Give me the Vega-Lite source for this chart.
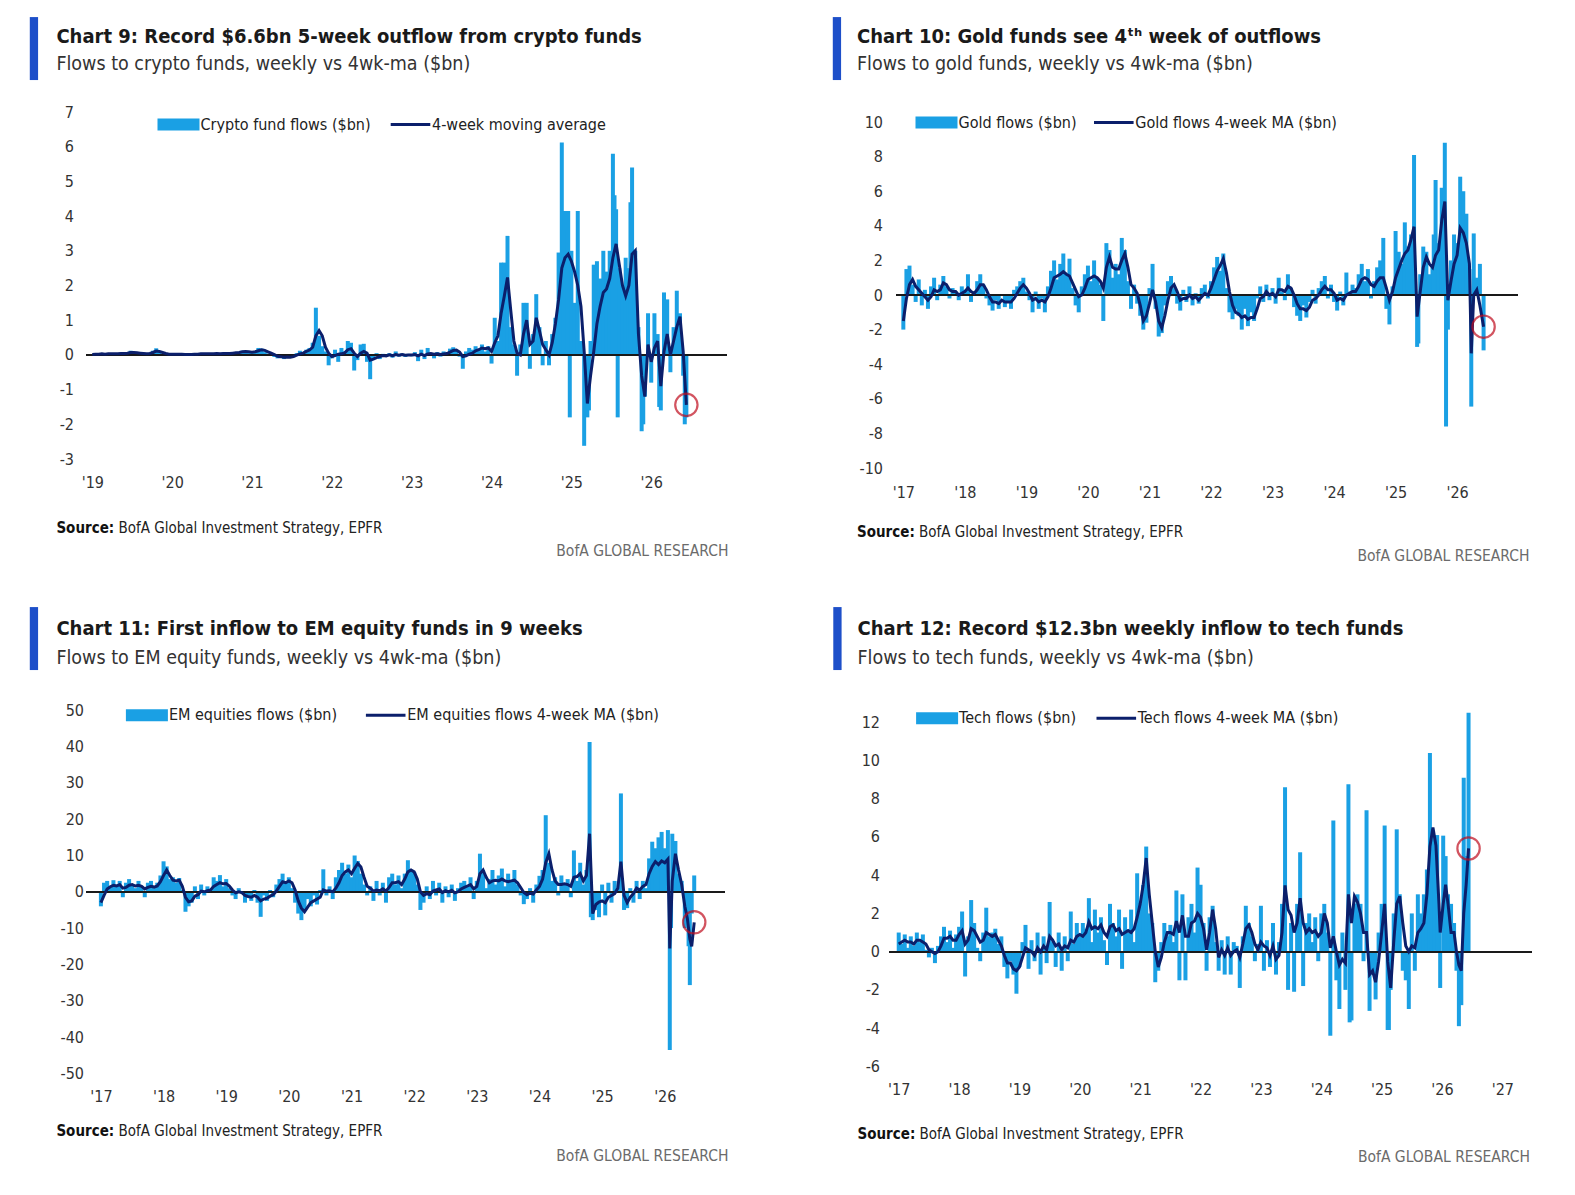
{
  "$schema": "https://vega.github.io/schema/vega-lite/v6.json",
  "background": "white",
  "padding": {"left": 16.5, "top": 24, "right": 10, "bottom": 10},
  "config": {
    "font": "DejaVu Sans Condensed, DejaVu Sans, sans-serif",
    "view": {"stroke": null},
    "axis": {"grid": false, "ticks": false, "domain": false, "labelFontSize": 16, "labelColor": "#333333", "titleLimit": 1500, "titleAngle": 0, "titlePadding": 0},
    "legend": {"labelFontSize": 16, "labelColor": "#222222", "labelLimit": 400}
  },
  "datasets": {
    "crypto": [
      {"t":2019.00,"f":0.02,"m":0.01},{"t":2019.04,"f":0.03,"m":0.02},{"t":2019.08,"f":0.01,"m":0.02},{"t":2019.12,"f":0.04,"m":0.03},{"t":2019.16,"f":0.02,"m":0.02},{"t":2019.20,"f":0.03,"m":0.03},{"t":2019.24,"f":0.05,"m":0.03},{"t":2019.28,"f":0.02,"m":0.03},{"t":2019.32,"f":0.04,"m":0.03},{"t":2019.36,"f":0.06,"m":0.04},{"t":2019.40,"f":0.03,"m":0.04},{"t":2019.44,"f":0.08,"m":0.05},{"t":2019.48,"f":0.12,"m":0.07},{"t":2019.52,"f":0.06,"m":0.07},{"t":2019.56,"f":0.03,"m":0.06},{"t":2019.60,"f":0.05,"m":0.05},{"t":2019.64,"f":0.02,"m":0.04},{"t":2019.68,"f":0.04,"m":0.03},{"t":2019.72,"f":0.06,"m":0.04},{"t":2019.76,"f":0.12,"m":0.07},{"t":2019.80,"f":0.19,"m":0.11},{"t":2019.84,"f":0.07,"m":0.10},{"t":2019.88,"f":0.03,"m":0.07},{"t":2019.92,"f":0.02,"m":0.04},{"t":2019.96,"f":0.01,"m":0.02},
      {"t":2020.00,"f":0.02,"m":0.02},{"t":2020.04,"f":0.03,"m":0.02},{"t":2020.08,"f":0.01,"m":0.02},{"t":2020.12,"f":0.02,"m":0.02},{"t":2020.16,"f":-0.02,"m":0.01},{"t":2020.20,"f":0.01,"m":0.01},{"t":2020.24,"f":0.02,"m":0.01},{"t":2020.28,"f":0.03,"m":0.02},{"t":2020.32,"f":0.02,"m":0.02},{"t":2020.36,"f":0.04,"m":0.03},{"t":2020.40,"f":0.02,"m":0.03},{"t":2020.44,"f":0.03,"m":0.03},{"t":2020.48,"f":0.05,"m":0.03},{"t":2020.52,"f":0.03,"m":0.03},{"t":2020.56,"f":0.04,"m":0.04},{"t":2020.60,"f":0.02,"m":0.03},{"t":2020.64,"f":0.05,"m":0.04},{"t":2020.68,"f":0.04,"m":0.04},{"t":2020.72,"f":0.06,"m":0.04},{"t":2020.76,"f":0.05,"m":0.05},{"t":2020.80,"f":0.07,"m":0.06},{"t":2020.84,"f":0.09,"m":0.07},{"t":2020.88,"f":0.12,"m":0.09},{"t":2020.92,"f":0.10,"m":0.10},{"t":2020.96,"f":0.06,"m":0.09},
      {"t":2021.00,"f":0.08,"m":0.08},{"t":2021.04,"f":0.10,"m":0.09},{"t":2021.08,"f":0.20,"m":0.12},{"t":2021.12,"f":0.18,"m":0.15},{"t":2021.16,"f":0.08,"m":0.13},{"t":2021.20,"f":0.04,"m":0.09},{"t":2021.24,"f":0.02,"m":0.05},{"t":2021.28,"f":-0.06,"m":0.01},{"t":2021.32,"f":-0.10,"m":-0.04},{"t":2021.36,"f":-0.05,"m":-0.05},{"t":2021.40,"f":-0.12,"m":-0.07},{"t":2021.44,"f":-0.04,"m":-0.06},{"t":2021.48,"f":-0.08,"m":-0.07},{"t":2021.52,"f":-0.03,"m":-0.05},{"t":2021.56,"f":0.05,"m":-0.01},{"t":2021.60,"f":0.12,"m":0.03},{"t":2021.64,"f":0.08,"m":0.05},{"t":2021.68,"f":0.15,"m":0.10},{"t":2021.72,"f":0.20,"m":0.14},{"t":2021.76,"f":0.35,"m":0.22},{"t":2021.80,"f":1.36,"m":0.55},{"t":2021.84,"f":0.55,"m":0.70},{"t":2021.88,"f":0.25,"m":0.55},{"t":2021.92,"f":0.10,"m":0.22},{"t":2021.96,"f":-0.30,"m":0.05},
      {"t":2022.00,"f":-0.10,"m":-0.05},{"t":2022.04,"f":0.15,"m":-0.02},{"t":2022.08,"f":-0.20,"m":0.02},{"t":2022.12,"f":0.20,"m":0.03},{"t":2022.16,"f":0.10,"m":0.06},{"t":2022.20,"f":0.40,"m":0.15},{"t":2022.24,"f":0.35,"m":0.18},{"t":2022.28,"f":-0.45,"m":0.05},{"t":2022.32,"f":-0.15,"m":-0.05},{"t":2022.36,"f":0.30,"m":0.05},{"t":2022.40,"f":0.32,"m":0.10},{"t":2022.44,"f":-0.20,"m":0.05},{"t":2022.48,"f":-0.70,"m":-0.15},{"t":2022.52,"f":-0.10,"m":-0.12},{"t":2022.56,"f":0.05,"m":-0.08},{"t":2022.60,"f":-0.12,"m":-0.05},{"t":2022.64,"f":0.03,"m":-0.02},{"t":2022.68,"f":-0.06,"m":-0.03},{"t":2022.72,"f":0.05,"m":0.00},{"t":2022.76,"f":-0.08,"m":-0.02},{"t":2022.80,"f":0.10,"m":0.01},{"t":2022.84,"f":-0.05,"m":-0.01},{"t":2022.88,"f":0.04,"m":0.01},{"t":2022.92,"f":-0.06,"m":-0.01},{"t":2022.96,"f":0.03,"m":0.00},
      {"t":2023.00,"f":-0.04,"m":0.00},{"t":2023.04,"f":0.08,"m":0.01},{"t":2023.08,"f":-0.18,"m":-0.03},{"t":2023.12,"f":0.15,"m":0.02},{"t":2023.16,"f":-0.12,"m":-0.02},{"t":2023.20,"f":0.20,"m":0.03},{"t":2023.24,"f":0.05,"m":0.04},{"t":2023.28,"f":-0.10,"m":0.02},{"t":2023.32,"f":0.08,"m":0.03},{"t":2023.36,"f":-0.05,"m":0.01},{"t":2023.40,"f":0.10,"m":0.03},{"t":2023.44,"f":0.05,"m":0.04},{"t":2023.48,"f":0.18,"m":0.08},{"t":2023.52,"f":0.22,"m":0.13},{"t":2023.56,"f":0.12,"m":0.14},{"t":2023.60,"f":-0.05,"m":0.08},{"t":2023.64,"f":-0.40,"m":-0.05},{"t":2023.68,"f":0.10,"m":-0.03},{"t":2023.72,"f":0.20,"m":0.02},{"t":2023.76,"f":0.15,"m":0.05},{"t":2023.80,"f":0.25,"m":0.12},{"t":2023.84,"f":0.15,"m":0.15},{"t":2023.88,"f":0.30,"m":0.20},{"t":2023.92,"f":0.10,"m":0.18},{"t":2023.96,"f":0.25,"m":0.20},
      {"t":2024.00,"f":-0.25,"m":0.10},{"t":2024.04,"f":1.07,"m":0.35},{"t":2024.08,"f":0.40,"m":0.55},{"t":2024.12,"f":2.66,"m":1.20},{"t":2024.16,"f":2.66,"m":1.70},{"t":2024.20,"f":3.43,"m":2.23},{"t":2024.24,"f":0.80,"m":1.30},{"t":2024.28,"f":0.30,"m":0.40},{"t":2024.32,"f":-0.60,"m":0.05},{"t":2024.36,"f":0.30,"m":0.00},{"t":2024.40,"f":1.50,"m":0.60},{"t":2024.44,"f":1.50,"m":1.00},{"t":2024.48,"f":-0.40,"m":0.30},{"t":2024.52,"f":0.60,"m":0.40},{"t":2024.56,"f":1.75,"m":1.07},{"t":2024.60,"f":0.80,"m":0.70},{"t":2024.64,"f":-0.30,"m":0.30},{"t":2024.68,"f":0.40,"m":0.15},{"t":2024.72,"f":-0.30,"m":0.00},{"t":2024.76,"f":0.60,"m":0.35},{"t":2024.80,"f":1.07,"m":0.90},{"t":2024.84,"f":2.95,"m":1.60},{"t":2024.88,"f":6.12,"m":2.50},{"t":2024.92,"f":4.15,"m":2.80},{"t":2024.96,"f":4.15,"m":2.90},
      {"t":2025.00,"f":3.00,"m":2.70},{"t":2025.04,"f":1.50,"m":2.40},{"t":2025.08,"f":4.15,"m":2.00},{"t":2025.12,"f":0.40,"m":1.40},{"t":2025.16,"f":-2.62,"m":0.10},{"t":2025.20,"f":-1.80,"m":-1.40},{"t":2025.24,"f":0.40,"m":-0.60},{"t":2025.28,"f":2.60,"m":0.10},{"t":2025.32,"f":2.70,"m":0.90},{"t":2025.36,"f":2.20,"m":1.40},{"t":2025.40,"f":3.00,"m":1.80},{"t":2025.44,"f":2.40,"m":1.90},{"t":2025.48,"f":3.00,"m":2.20},{"t":2025.52,"f":5.80,"m":2.80},{"t":2025.56,"f":4.20,"m":3.20},{"t":2025.60,"f":2.50,"m":2.60},{"t":2025.64,"f":2.00,"m":2.00},{"t":2025.68,"f":2.80,"m":1.70},{"t":2025.72,"f":2.50,"m":2.00},{"t":2025.76,"f":5.40,"m":2.90},{"t":2025.80,"f":3.00,"m":3.00},{"t":2025.84,"f":0.80,"m":0.60},{"t":2025.88,"f":-2.20,"m":-0.60},{"t":2025.92,"f":-1.20,"m":-1.20},{"t":2025.96,"f":1.20,"m":0.30},
      {"t":2026.00,"f":-0.80,"m":-0.20},{"t":2026.04,"f":1.20,"m":0.20},{"t":2026.08,"f":0.60,"m":0.40},{"t":2026.12,"f":-1.60,"m":-0.90},{"t":2026.16,"f":1.80,"m":0.10},{"t":2026.20,"f":1.60,"m":0.60},{"t":2026.24,"f":-0.50,"m":0.00},{"t":2026.28,"f":0.80,"m":0.40},{"t":2026.32,"f":1.85,"m":0.80},{"t":2026.36,"f":1.20,"m":1.10},{"t":2026.40,"f":-0.60,"m":0.10},{"t":2026.44,"f":-1.80,"m":-1.44},
      {"t":2024.90,"f":3.6},{"t":2024.98,"f":-1.8},{"t":2025.22,"f":-1.6},{"t":2025.54,"f":4.6},{"t":2025.58,"f":-1.8},{"t":2025.74,"f":4.4},{"t":2025.90,"f":-2.0},{"t":2026.10,"f":-1.5},{"t":2026.42,"f":-2.0}
    ],
    "gold": [
      {"t":2017.00,"f":-2.0,"m":-1.5},{"t":2017.05,"f":1.5,"m":-0.2},{"t":2017.10,"f":1.7,"m":0.6},{"t":2017.15,"f":0.6,"m":0.9},{"t":2017.20,"f":-0.4,"m":0.5},{"t":2017.25,"f":0.9,"m":0.3},{"t":2017.30,"f":-0.6,"m":0.1},{"t":2017.35,"f":0.3,"m":-0.1},{"t":2017.40,"f":-0.8,"m":-0.3},{"t":2017.45,"f":0.5,"m":-0.1},{"t":2017.50,"f":1.0,"m":0.3},{"t":2017.55,"f":-0.3,"m":0.2},{"t":2017.60,"f":0.6,"m":0.3},{"t":2017.65,"f":1.1,"m":0.7},{"t":2017.70,"f":0.5,"m":0.6},{"t":2017.75,"f":-0.2,"m":0.3},{"t":2017.80,"f":0.4,"m":0.2},{"t":2017.85,"f":0.2,"m":0.2},{"t":2017.90,"f":-0.3,"m":0.0},{"t":2017.95,"f":0.5,"m":0.1},
      {"t":2018.00,"f":0.3,"m":0.2},{"t":2018.05,"f":1.2,"m":0.4},{"t":2018.10,"f":-0.4,"m":0.2},{"t":2018.15,"f":0.2,"m":0.1},{"t":2018.20,"f":0.8,"m":0.3},{"t":2018.25,"f":1.2,"m":0.6},{"t":2018.30,"f":0.6,"m":0.6},{"t":2018.35,"f":-0.2,"m":0.3},{"t":2018.40,"f":-0.6,"m":-0.1},{"t":2018.45,"f":-0.9,"m":-0.4},{"t":2018.50,"f":-0.3,"m":-0.4},{"t":2018.55,"f":-0.8,"m":-0.5},{"t":2018.60,"f":0.0,"m":-0.3},{"t":2018.65,"f":-0.7,"m":-0.4},{"t":2018.70,"f":-0.4,"m":-0.4},{"t":2018.75,"f":-0.8,"m":-0.4},{"t":2018.80,"f":0.3,"m":-0.2},{"t":2018.85,"f":0.5,"m":0.1},{"t":2018.90,"f":0.8,"m":0.4},{"t":2018.95,"f":1.0,"m":0.6},
      {"t":2019.00,"f":0.2,"m":0.4},{"t":2019.05,"f":-0.3,"m":0.1},{"t":2019.10,"f":-1.0,"m":-0.3},{"t":2019.15,"f":0.2,"m":-0.2},{"t":2019.20,"f":-0.8,"m":-0.4},{"t":2019.25,"f":-0.2,"m":-0.3},{"t":2019.30,"f":-1.0,"m":-0.4},{"t":2019.35,"f":0.5,"m":-0.1},{"t":2019.40,"f":1.4,"m":0.4},{"t":2019.45,"f":2.0,"m":1.0},{"t":2019.50,"f":0.9,"m":1.1},{"t":2019.55,"f":1.8,"m":1.2},{"t":2019.60,"f":2.4,"m":1.35},{"t":2019.65,"f":1.2,"m":1.2},{"t":2019.70,"f":2.1,"m":1.1},{"t":2019.75,"f":0.4,"m":0.7},{"t":2019.80,"f":-0.6,"m":0.3},{"t":2019.85,"f":-1.0,"m":-0.1},{"t":2019.90,"f":0.5,"m":0.0},{"t":2019.95,"f":1.2,"m":0.4},
      {"t":2020.00,"f":1.7,"m":0.9},{"t":2020.05,"f":0.8,"m":1.0},{"t":2020.10,"f":2.0,"m":1.1},{"t":2020.15,"f":1.0,"m":1.0},{"t":2020.20,"f":0.6,"m":0.8},{"t":2020.25,"f":-1.5,"m":0.4},{"t":2020.30,"f":3.0,"m":1.6},{"t":2020.35,"f":2.6,"m":2.2},{"t":2020.40,"f":1.0,"m":1.6},{"t":2020.45,"f":1.8,"m":1.5},{"t":2020.50,"f":1.2,"m":1.5},{"t":2020.55,"f":3.3,"m":2.0},{"t":2020.60,"f":2.6,"m":2.4},{"t":2020.65,"f":0.8,"m":1.6},{"t":2020.70,"f":-0.8,"m":0.6},{"t":2020.75,"f":0.6,"m":0.4},{"t":2020.80,"f":-0.5,"m":0.1},{"t":2020.85,"f":-1.2,"m":-0.6},{"t":2020.90,"f":-2.0,"m":-1.5},{"t":2020.95,"f":-1.6,"m":-1.2},
      {"t":2021.00,"f":0.4,"m":-0.5},{"t":2021.05,"f":1.8,"m":0.3},{"t":2021.10,"f":-0.8,"m":-0.4},{"t":2021.15,"f":-2.4,"m":-1.5},{"t":2021.20,"f":-2.2,"m":-1.9},{"t":2021.25,"f":-0.6,"m":-1.2},{"t":2021.30,"f":0.8,"m":-0.3},{"t":2021.35,"f":1.1,"m":0.4},{"t":2021.40,"f":0.4,"m":0.6},{"t":2021.45,"f":-0.5,"m":0.2},{"t":2021.50,"f":-0.9,"m":-0.3},{"t":2021.55,"f":0.3,"m":-0.2},{"t":2021.60,"f":-0.4,"m":-0.2},{"t":2021.65,"f":0.5,"m":0.0},{"t":2021.70,"f":-0.6,"m":-0.2},{"t":2021.75,"f":0.1,"m":-0.1},{"t":2021.80,"f":-0.5,"m":-0.3},{"t":2021.85,"f":0.4,"m":-0.1},{"t":2021.90,"f":0.6,"m":0.1},{"t":2021.95,"f":-0.2,"m":0.0},
      {"t":2022.00,"f":0.8,"m":0.4},{"t":2022.05,"f":1.6,"m":0.9},{"t":2022.10,"f":2.2,"m":1.4},{"t":2022.15,"f":1.4,"m":1.7},{"t":2022.20,"f":2.4,"m":2.1},{"t":2022.25,"f":0.4,"m":1.3},{"t":2022.30,"f":-1.0,"m":0.2},{"t":2022.35,"f":-1.4,"m":-0.6},{"t":2022.40,"f":-0.8,"m":-1.0},{"t":2022.45,"f":-1.2,"m":-1.1},{"t":2022.50,"f":-2.0,"m":-1.3},{"t":2022.55,"f":-0.8,"m":-1.2},{"t":2022.60,"f":-1.8,"m":-1.4},{"t":2022.65,"f":-1.0,"m":-1.3},{"t":2022.70,"f":-1.5,"m":-1.3},{"t":2022.75,"f":-0.2,"m":-0.8},{"t":2022.80,"f":0.5,"m":-0.2},{"t":2022.85,"f":-0.4,"m":-0.1},{"t":2022.90,"f":0.6,"m":0.2},{"t":2022.95,"f":-0.3,"m":0.0},
      {"t":2023.00,"f":0.4,"m":0.1},{"t":2023.05,"f":-0.5,"m":-0.1},{"t":2023.10,"f":1.0,"m":0.3},{"t":2023.15,"f":0.2,"m":0.3},{"t":2023.20,"f":-0.3,"m":0.2},{"t":2023.25,"f":1.2,"m":0.5},{"t":2023.30,"f":0.4,"m":0.4},{"t":2023.35,"f":-0.7,"m":0.0},{"t":2023.40,"f":-1.2,"m":-0.5},{"t":2023.45,"f":-1.5,"m":-0.8},{"t":2023.50,"f":-0.6,"m":-0.8},{"t":2023.55,"f":-1.3,"m":-0.9},{"t":2023.60,"f":-0.4,"m":-0.7},{"t":2023.65,"f":0.3,"m":-0.3},{"t":2023.70,"f":-0.5,"m":-0.2},{"t":2023.75,"f":0.4,"m":0.0},{"t":2023.80,"f":0.8,"m":0.3},{"t":2023.85,"f":1.1,"m":0.5},{"t":2023.90,"f":-0.2,"m":0.3},{"t":2023.95,"f":0.6,"m":0.3},
      {"t":2024.00,"f":-0.4,"m":0.1},{"t":2024.05,"f":-0.9,"m":-0.3},{"t":2024.10,"f":0.2,"m":-0.2},{"t":2024.15,"f":-0.6,"m":-0.3},{"t":2024.20,"f":1.3,"m":0.0},{"t":2024.25,"f":0.2,"m":0.1},{"t":2024.30,"f":0.6,"m":0.2},{"t":2024.35,"f":0.4,"m":0.2},{"t":2024.40,"f":1.2,"m":0.5},{"t":2024.45,"f":1.8,"m":0.9},{"t":2024.50,"f":0.8,"m":1.0},{"t":2024.55,"f":1.5,"m":0.9},{"t":2024.60,"f":-0.2,"m":0.6},{"t":2024.65,"f":0.8,"m":0.5},{"t":2024.70,"f":1.6,"m":0.8},{"t":2024.75,"f":2.0,"m":1.0},{"t":2024.80,"f":3.3,"m":1.0},{"t":2024.85,"f":-0.8,"m":0.4},{"t":2024.90,"f":-1.7,"m":-0.3},{"t":2024.95,"f":0.5,"m":0.2},
      {"t":2025.00,"f":3.7,"m":1.0},{"t":2025.05,"f":2.5,"m":1.5},{"t":2025.10,"f":1.8,"m":2.0},{"t":2025.15,"f":4.2,"m":2.4},{"t":2025.20,"f":2.8,"m":2.6},{"t":2025.25,"f":3.5,"m":3.2},{"t":2025.30,"f":8.1,"m":3.95},{"t":2025.35,"f":-3.0,"m":-1.25},{"t":2025.40,"f":1.2,"m":0.2},{"t":2025.45,"f":2.8,"m":1.6},{"t":2025.50,"f":2.5,"m":2.2},{"t":2025.55,"f":1.2,"m":1.8},{"t":2025.60,"f":1.6,"m":1.6},{"t":2025.65,"f":6.65,"m":2.3},{"t":2025.70,"f":3.0,"m":2.6},{"t":2025.75,"f":6.2,"m":4.3},{"t":2025.80,"f":8.8,"m":5.4},{"t":2025.85,"f":-2.0,"m":-0.3},{"t":2025.90,"f":2.0,"m":0.8},{"t":2025.95,"f":3.5,"m":1.8},
      {"t":2026.00,"f":3.0,"m":2.3},{"t":2026.05,"f":6.84,"m":3.87},{"t":2026.10,"f":6.0,"m":3.6},{"t":2026.15,"f":4.7,"m":3.0},{"t":2026.20,"f":1.5,"m":1.8},{"t":2026.23,"f":-6.45,"m":-3.37},{"t":2026.27,"f":3.56,"m":0.0},{"t":2026.32,"f":1.0,"m":0.3},{"t":2026.37,"f":1.8,"m":-0.6},{"t":2026.43,"f":-3.2,"m":-1.83},
      {"t":2025.82,"f":-7.6},{"t":2025.37,"f":-2.8},{"t":2025.62,"f":3.5},{"t":2025.78,"f":5.5}
    ],
    "em": [
      {"t":2017.00,"f":-4.0,"m":-3.0},{"t":2017.05,"f":2.5,"m":-1.0},{"t":2017.10,"f":3.0,"m":0.8},{"t":2017.15,"f":1.5,"m":1.4},{"t":2017.20,"f":3.2,"m":1.8},{"t":2017.25,"f":2.0,"m":1.6},{"t":2017.30,"f":3.0,"m":2.0},{"t":2017.35,"f":-1.5,"m":1.0},{"t":2017.40,"f":2.5,"m":1.2},{"t":2017.45,"f":3.5,"m":1.8},{"t":2017.50,"f":2.0,"m":2.0},{"t":2017.55,"f":1.0,"m":1.6},{"t":2017.60,"f":3.0,"m":1.8},{"t":2017.65,"f":1.5,"m":1.5},{"t":2017.70,"f":-1.5,"m":0.8},{"t":2017.75,"f":2.5,"m":1.2},{"t":2017.80,"f":3.0,"m":1.5},{"t":2017.85,"f":1.0,"m":1.3},{"t":2017.90,"f":2.5,"m":1.6},{"t":2017.95,"f":4.5,"m":2.8},
      {"t":2018.00,"f":8.4,"m":4.5},{"t":2018.05,"f":7.0,"m":6.0},{"t":2018.10,"f":3.5,"m":4.5},{"t":2018.15,"f":4.0,"m":3.2},{"t":2018.20,"f":2.5,"m":3.0},{"t":2018.25,"f":3.8,"m":3.2},{"t":2018.30,"f":0.5,"m":1.5},{"t":2018.35,"f":-5.5,"m":-1.5},{"t":2018.40,"f":-4.0,"m":-2.75},{"t":2018.45,"f":-3.0,"m":-2.5},{"t":2018.50,"f":1.5,"m":-1.2},{"t":2018.55,"f":-2.0,"m":-0.8},{"t":2018.60,"f":2.0,"m":0.2},{"t":2018.65,"f":-1.0,"m":0.0},{"t":2018.70,"f":1.5,"m":0.3},{"t":2018.75,"f":0.5,"m":0.5},{"t":2018.80,"f":4.0,"m":1.5},{"t":2018.85,"f":3.0,"m":2.0},{"t":2018.90,"f":4.6,"m":2.5},{"t":2018.95,"f":1.5,"m":2.2},
      {"t":2019.00,"f":3.5,"m":2.3},{"t":2019.05,"f":1.0,"m":1.6},{"t":2019.10,"f":-1.0,"m":0.5},{"t":2019.15,"f":-2.0,"m":-0.3},{"t":2019.20,"f":1.0,"m":0.0},{"t":2019.25,"f":-0.5,"m":-0.2},{"t":2019.30,"f":-3.0,"m":-1.0},{"t":2019.35,"f":-1.0,"m":-1.3},{"t":2019.40,"f":-2.5,"m":-1.5},{"t":2019.45,"f":0.5,"m":-1.0},{"t":2019.50,"f":-3.0,"m":-1.5},{"t":2019.55,"f":-6.9,"m":-2.5},{"t":2019.60,"f":-1.0,"m":-2.0},{"t":2019.65,"f":-2.5,"m":-1.8},{"t":2019.70,"f":0.5,"m":-1.2},{"t":2019.75,"f":-1.5,"m":-0.8},{"t":2019.80,"f":2.0,"m":0.2},{"t":2019.85,"f":3.5,"m":1.5},{"t":2019.90,"f":5.0,"m":2.75},{"t":2019.95,"f":2.5,"m":2.5},
      {"t":2020.00,"f":4.0,"m":3.0},{"t":2020.05,"f":1.0,"m":2.5},{"t":2020.10,"f":-3.0,"m":0.5},{"t":2020.15,"f":-6.0,"m":-2.5},{"t":2020.20,"f":-7.8,"m":-4.5},{"t":2020.25,"f":-5.0,"m":-5.5},{"t":2020.30,"f":-2.0,"m":-4.2},{"t":2020.35,"f":-4.0,"m":-3.0},{"t":2020.40,"f":-1.0,"m":-2.5},{"t":2020.45,"f":-3.5,"m":-2.0},{"t":2020.50,"f":0.5,"m":-1.5},{"t":2020.55,"f":6.2,"m":0.5},{"t":2020.60,"f":-1.0,"m":0.2},{"t":2020.65,"f":1.5,"m":0.3},{"t":2020.70,"f":-2.0,"m":0.0},{"t":2020.75,"f":4.0,"m":1.0},{"t":2020.80,"f":6.0,"m":2.5},{"t":2020.85,"f":8.0,"m":4.5},{"t":2020.90,"f":5.0,"m":5.5},{"t":2020.95,"f":7.5,"m":6.0},
      {"t":2021.00,"f":4.0,"m":5.0},{"t":2021.05,"f":10.0,"m":6.5},{"t":2021.10,"f":8.5,"m":7.8},{"t":2021.15,"f":5.0,"m":6.8},{"t":2021.20,"f":2.0,"m":4.0},{"t":2021.25,"f":-1.0,"m":1.5},{"t":2021.30,"f":1.5,"m":1.0},{"t":2021.35,"f":-2.5,"m":0.2},{"t":2021.40,"f":3.0,"m":0.5},{"t":2021.45,"f":-1.0,"m":0.3},{"t":2021.50,"f":2.5,"m":0.8},{"t":2021.55,"f":-3.0,"m":0.2},{"t":2021.60,"f":4.0,"m":1.2},{"t":2021.65,"f":5.0,"m":2.5},{"t":2021.70,"f":2.0,"m":2.5},{"t":2021.75,"f":4.5,"m":2.8},{"t":2021.80,"f":1.0,"m":2.0},{"t":2021.85,"f":5.0,"m":3.5},{"t":2021.90,"f":8.7,"m":5.5},{"t":2021.95,"f":6.0,"m":6.0},
      {"t":2022.00,"f":5.5,"m":5.5},{"t":2022.05,"f":2.0,"m":3.5},{"t":2022.10,"f":-5.0,"m":0.0},{"t":2022.15,"f":-3.0,"m":-1.0},{"t":2022.20,"f":1.5,"m":-0.5},{"t":2022.25,"f":-2.0,"m":-0.8},{"t":2022.30,"f":3.0,"m":0.2},{"t":2022.35,"f":-1.0,"m":0.5},{"t":2022.40,"f":2.5,"m":0.8},{"t":2022.45,"f":-3.0,"m":-0.2},{"t":2022.50,"f":1.5,"m":0.3},{"t":2022.55,"f":-1.5,"m":0.0},{"t":2022.60,"f":2.0,"m":0.4},{"t":2022.65,"f":-2.5,"m":-0.3},{"t":2022.70,"f":1.0,"m":0.0},{"t":2022.75,"f":2.5,"m":0.8},{"t":2022.80,"f":3.0,"m":1.2},{"t":2022.85,"f":1.5,"m":1.6},{"t":2022.90,"f":4.0,"m":2.0},{"t":2022.95,"f":-2.0,"m":0.8},
      {"t":2023.00,"f":3.0,"m":1.5},{"t":2023.05,"f":10.5,"m":5.0},{"t":2023.10,"f":6.0,"m":6.0},{"t":2023.15,"f":1.0,"m":4.0},{"t":2023.20,"f":3.5,"m":2.5},{"t":2023.25,"f":6.0,"m":3.0},{"t":2023.30,"f":2.0,"m":3.2},{"t":2023.35,"f":4.5,"m":3.0},{"t":2023.40,"f":6.4,"m":3.5},{"t":2023.45,"f":1.5,"m":3.0},{"t":2023.50,"f":5.0,"m":2.8},{"t":2023.55,"f":3.0,"m":3.0},{"t":2023.60,"f":6.0,"m":3.2},{"t":2023.65,"f":2.0,"m":2.5},{"t":2023.70,"f":-1.0,"m":1.2},{"t":2023.75,"f":-3.4,"m":-0.2},{"t":2023.80,"f":-2.0,"m":-0.8},{"t":2023.85,"f":1.0,"m":-0.4},{"t":2023.90,"f":-3.0,"m":-0.6},{"t":2023.95,"f":2.0,"m":0.5},
      {"t":2024.00,"f":4.4,"m":1.5},{"t":2024.05,"f":6.0,"m":3.5},{"t":2024.10,"f":21.1,"m":8.0},{"t":2024.15,"f":8.0,"m":10.5},{"t":2024.20,"f":3.0,"m":6.0},{"t":2024.25,"f":4.0,"m":3.0},{"t":2024.30,"f":-1.0,"m":2.0},{"t":2024.35,"f":4.5,"m":2.0},{"t":2024.40,"f":2.0,"m":2.2},{"t":2024.45,"f":3.5,"m":2.0},{"t":2024.50,"f":-1.5,"m":1.5},{"t":2024.55,"f":11.4,"m":4.0},{"t":2024.60,"f":3.0,"m":4.2},{"t":2024.65,"f":8.0,"m":5.0},{"t":2024.70,"f":2.0,"m":3.0},{"t":2024.75,"f":6.0,"m":4.5},{"t":2024.80,"f":41.3,"m":16.0},{"t":2024.85,"f":-7.8,"m":-6.0},{"t":2024.90,"f":-5.0,"m":-3.5},{"t":2024.95,"f":-7.0,"m":-2.8},
      {"t":2025.00,"f":2.0,"m":-2.5},{"t":2025.05,"f":-6.5,"m":-3.0},{"t":2025.10,"f":2.5,"m":-1.5},{"t":2025.15,"f":-3.0,"m":-1.0},{"t":2025.20,"f":3.0,"m":-0.5},{"t":2025.25,"f":1.0,"m":1.0},{"t":2025.30,"f":27.1,"m":8.3},{"t":2025.35,"f":-5.0,"m":-1.0},{"t":2025.40,"f":-4.5,"m":-3.0},{"t":2025.45,"f":1.0,"m":-1.5},{"t":2025.50,"f":-3.0,"m":-0.5},{"t":2025.55,"f":3.0,"m":1.0},{"t":2025.60,"f":-2.0,"m":0.5},{"t":2025.65,"f":3.0,"m":1.5},{"t":2025.70,"f":1.0,"m":2.0},{"t":2025.75,"f":9.2,"m":5.0},{"t":2025.80,"f":13.8,"m":7.0},{"t":2025.85,"f":12.0,"m":8.3},{"t":2025.90,"f":15.0,"m":7.5},{"t":2025.95,"f":16.5,"m":8.5},
      {"t":2026.00,"f":12.0,"m":8.0},{"t":2026.05,"f":17.0,"m":9.0},{"t":2026.08,"f":-43.6,"m":-15.6},{"t":2026.12,"f":16.0,"m":3.0},{"t":2026.17,"f":14.0,"m":10.5},{"t":2026.22,"f":5.0,"m":6.0},{"t":2026.27,"f":3.0,"m":2.0},{"t":2026.32,"f":-10.0,"m":-4.0},{"t":2026.36,"f":-8.0,"m":-7.3},{"t":2026.40,"f":-25.7,"m":-13.0},{"t":2026.43,"f":-6.0,"m":-15.0},{"t":2026.47,"f":4.5,"m":-8.4},
      {"t":2024.82,"f":-7.0},{"t":2026.10,"f":-10.0},{"t":2026.38,"f":-15.0}
    ],
    "tech": [
      {"t":2017.00,"f":1.0,"m":0.4},{"t":2017.05,"f":0.4,"m":0.5},{"t":2017.10,"f":0.9,"m":0.6},{"t":2017.15,"f":0.2,"m":0.5},{"t":2017.20,"f":0.8,"m":0.5},{"t":2017.25,"f":0.3,"m":0.4},{"t":2017.30,"f":1.0,"m":0.6},{"t":2017.35,"f":0.5,"m":0.6},{"t":2017.40,"f":0.9,"m":0.5},{"t":2017.45,"f":0.1,"m":0.4},{"t":2017.50,"f":-0.3,"m":0.1},{"t":2017.55,"f":0.2,"m":0.0},{"t":2017.60,"f":-0.6,"m":-0.1},{"t":2017.65,"f":0.3,"m":0.0},{"t":2017.70,"f":0.8,"m":0.3},{"t":2017.75,"f":1.3,"m":0.7},{"t":2017.80,"f":0.5,"m":0.7},{"t":2017.85,"f":1.1,"m":0.8},{"t":2017.90,"f":0.2,"m":0.6},{"t":2017.95,"f":0.9,"m":0.6},
      {"t":2018.00,"f":1.3,"m":0.9},{"t":2018.05,"f":2.1,"m":1.1},{"t":2018.10,"f":-1.3,"m":0.4},{"t":2018.15,"f":0.8,"m":0.6},{"t":2018.20,"f":2.7,"m":1.2},{"t":2018.25,"f":1.5,"m":1.1},{"t":2018.30,"f":0.2,"m":0.8},{"t":2018.35,"f":-0.5,"m":0.5},{"t":2018.40,"f":1.0,"m":0.6},{"t":2018.45,"f":2.3,"m":1.0},{"t":2018.50,"f":0.8,"m":0.9},{"t":2018.55,"f":1.0,"m":0.8},{"t":2018.60,"f":1.2,"m":0.9},{"t":2018.65,"f":0.4,"m":0.6},{"t":2018.70,"f":0.8,"m":0.3},{"t":2018.75,"f":-0.8,"m":-0.2},{"t":2018.80,"f":-1.4,"m":-0.6},{"t":2018.85,"f":-0.5,"m":-0.6},{"t":2018.90,"f":-1.2,"m":-0.9},{"t":2018.95,"f":-2.2,"m":-1.0},
      {"t":2019.00,"f":-0.8,"m":-0.8},{"t":2019.05,"f":0.5,"m":-0.3},{"t":2019.10,"f":1.4,"m":0.2},{"t":2019.15,"f":-0.9,"m":0.1},{"t":2019.20,"f":0.6,"m":0.0},{"t":2019.25,"f":-0.5,"m":-0.2},{"t":2019.30,"f":1.0,"m":0.2},{"t":2019.35,"f":-1.2,"m":0.0},{"t":2019.40,"f":0.8,"m":0.3},{"t":2019.45,"f":-0.6,"m":0.1},{"t":2019.50,"f":2.6,"m":0.8},{"t":2019.55,"f":0.5,"m":0.6},{"t":2019.60,"f":-0.8,"m":0.3},{"t":2019.65,"f":1.0,"m":0.4},{"t":2019.70,"f":-1.0,"m":0.1},{"t":2019.75,"f":0.8,"m":0.3},{"t":2019.80,"f":-0.5,"m":0.2},{"t":2019.85,"f":2.1,"m":0.6},{"t":2019.90,"f":0.4,"m":0.5},{"t":2019.95,"f":1.5,"m":0.8},
      {"t":2020.00,"f":0.8,"m":0.9},{"t":2020.05,"f":1.5,"m":0.8},{"t":2020.10,"f":1.2,"m":1.0},{"t":2020.15,"f":2.8,"m":1.56},{"t":2020.20,"f":0.5,"m":1.2},{"t":2020.25,"f":2.2,"m":1.3},{"t":2020.30,"f":1.0,"m":1.2},{"t":2020.35,"f":1.8,"m":1.4},{"t":2020.40,"f":0.6,"m":1.0},{"t":2020.45,"f":-0.7,"m":0.8},{"t":2020.50,"f":2.5,"m":1.3},{"t":2020.55,"f":1.5,"m":1.4},{"t":2020.60,"f":0.8,"m":1.1},{"t":2020.65,"f":2.2,"m":1.2},{"t":2020.70,"f":-0.9,"m":0.9},{"t":2020.75,"f":1.8,"m":1.0},{"t":2020.80,"f":1.0,"m":1.1},{"t":2020.85,"f":2.2,"m":1.0},{"t":2020.90,"f":0.5,"m":1.2},{"t":2020.95,"f":4.1,"m":1.8},
      {"t":2021.00,"f":2.5,"m":2.5},{"t":2021.05,"f":3.5,"m":3.5},{"t":2021.10,"f":5.5,"m":4.9},{"t":2021.15,"f":2.0,"m":3.0},{"t":2021.20,"f":1.5,"m":1.5},{"t":2021.25,"f":-1.6,"m":0.0},{"t":2021.30,"f":-1.0,"m":-0.8},{"t":2021.35,"f":0.5,"m":-0.3},{"t":2021.40,"f":1.5,"m":0.5},{"t":2021.45,"f":0.8,"m":1.0},{"t":2021.50,"f":1.4,"m":1.0},{"t":2021.55,"f":0.5,"m":0.9},{"t":2021.60,"f":3.2,"m":1.6},{"t":2021.65,"f":-1.5,"m":1.0},{"t":2021.70,"f":3.0,"m":1.9},{"t":2021.75,"f":-1.5,"m":0.8},{"t":2021.80,"f":1.8,"m":0.8},{"t":2021.85,"f":2.5,"m":1.5},{"t":2021.90,"f":1.0,"m":1.6},{"t":2021.95,"f":4.4,"m":2.0},
      {"t":2022.00,"f":3.5,"m":1.8},{"t":2022.05,"f":1.5,"m":1.2},{"t":2022.10,"f":-1.0,"m":0.1},{"t":2022.15,"f":1.8,"m":1.0},{"t":2022.20,"f":2.4,"m":2.2},{"t":2022.25,"f":0.5,"m":1.2},{"t":2022.30,"f":-1.0,"m":-0.3},{"t":2022.35,"f":0.6,"m":0.1},{"t":2022.40,"f":-1.2,"m":-0.2},{"t":2022.45,"f":0.8,"m":0.2},{"t":2022.50,"f":-1.2,"m":-0.2},{"t":2022.55,"f":0.5,"m":0.0},{"t":2022.60,"f":0.3,"m":0.1},{"t":2022.65,"f":-1.9,"m":-0.3},{"t":2022.70,"f":0.8,"m":0.4},{"t":2022.75,"f":2.4,"m":1.2},{"t":2022.80,"f":1.5,"m":1.4},{"t":2022.85,"f":0.8,"m":1.0},{"t":2022.90,"f":-0.5,"m":0.4},{"t":2022.95,"f":0.4,"m":0.1},
      {"t":2023.00,"f":2.4,"m":0.5},{"t":2023.05,"f":-1.0,"m":0.3},{"t":2023.10,"f":0.6,"m":0.2},{"t":2023.15,"f":-0.8,"m":-0.2},{"t":2023.20,"f":1.5,"m":0.3},{"t":2023.25,"f":-1.2,"m":-0.4},{"t":2023.30,"f":0.5,"m":-0.2},{"t":2023.35,"f":2.5,"m":1.0},{"t":2023.40,"f":8.6,"m":3.47},{"t":2023.45,"f":-2.0,"m":2.2},{"t":2023.50,"f":1.5,"m":1.9},{"t":2023.55,"f":-2.1,"m":1.0},{"t":2023.60,"f":2.5,"m":1.5},{"t":2023.65,"f":5.2,"m":2.8},{"t":2023.70,"f":-1.8,"m":1.5},{"t":2023.75,"f":1.5,"m":1.0},{"t":2023.80,"f":2.0,"m":1.2},{"t":2023.85,"f":0.5,"m":1.0},{"t":2023.90,"f":1.8,"m":1.1},{"t":2023.95,"f":-0.5,"m":0.8},
      {"t":2024.00,"f":2.0,"m":1.0},{"t":2024.05,"f":2.5,"m":2.0},{"t":2024.10,"f":1.0,"m":1.5},{"t":2024.15,"f":-4.4,"m":0.2},{"t":2024.20,"f":6.86,"m":0.8},{"t":2024.25,"f":-1.5,"m":0.0},{"t":2024.30,"f":-3.0,"m":-0.7},{"t":2024.35,"f":1.0,"m":-0.4},{"t":2024.40,"f":-2.0,"m":-0.6},{"t":2024.45,"f":8.76,"m":3.0},{"t":2024.50,"f":-3.6,"m":1.5},{"t":2024.55,"f":2.5,"m":2.9},{"t":2024.60,"f":3.0,"m":2.6},{"t":2024.65,"f":2.5,"m":2.0},{"t":2024.70,"f":-0.5,"m":1.0},{"t":2024.75,"f":7.4,"m":1.0},{"t":2024.80,"f":-3.1,"m":-1.2},{"t":2024.85,"f":-1.0,"m":-1.0},{"t":2024.90,"f":-2.5,"m":-1.6},{"t":2024.95,"f":1.0,"m":-0.5},
      {"t":2025.00,"f":2.5,"m":1.0},{"t":2025.05,"f":6.6,"m":2.5},{"t":2025.10,"f":-4.1,"m":-0.5},{"t":2025.15,"f":-2.0,"m":-1.9},{"t":2025.20,"f":2.0,"m":0.5},{"t":2025.25,"f":6.4,"m":2.5},{"t":2025.30,"f":3.0,"m":2.9},{"t":2025.35,"f":-1.0,"m":1.5},{"t":2025.40,"f":-1.5,"m":0.3},{"t":2025.45,"f":-3.0,"m":0.0},{"t":2025.50,"f":2.0,"m":0.3},{"t":2025.55,"f":-1.0,"m":0.2},{"t":2025.60,"f":3.0,"m":1.0},{"t":2025.65,"f":2.0,"m":1.2},{"t":2025.70,"f":3.0,"m":1.5},{"t":2025.75,"f":4.3,"m":3.0},{"t":2025.80,"f":10.4,"m":5.5},{"t":2025.85,"f":6.0,"m":6.5},{"t":2025.90,"f":5.5,"m":5.55},{"t":2025.95,"f":2.0,"m":2.5},
      {"t":2025.97,"f":-1.9,"m":1.0},{"t":2026.02,"f":6.07,"m":2.5},{"t":2026.06,"f":5.0,"m":3.5},{"t":2026.10,"f":3.0,"m":2.5},{"t":2026.15,"f":2.5,"m":1.0},{"t":2026.20,"f":1.5,"m":1.0},{"t":2026.24,"f":-1.0,"m":0.0},{"t":2026.28,"f":-3.9,"m":-0.7},{"t":2026.32,"f":-2.8,"m":-1.0},{"t":2026.36,"f":9.1,"m":2.0},{"t":2026.40,"f":5.0,"m":3.5},{"t":2026.44,"f":12.5,"m":5.4},
      {"t":2024.47,"f":-3.7},{"t":2025.12,"f":-4.1},{"t":2025.82,"f":6.0},{"t":2025.87,"f":6.1},{"t":2025.92,"f":6.1}
    ]
  },
  "spacing": 50.3,
  "resolve": {"scale": {"fill": "independent", "stroke": "independent"}, "legend": {"fill": "independent", "stroke": "independent"}},
  "vconcat": [
    {
      "spacing": 92,
      "resolve": {"scale": {"fill": "independent", "stroke": "independent"}, "legend": {"fill": "independent", "stroke": "independent"}},
      "hconcat": [
        {
          "width": 640, "height": 347,
          "data": {"name": "crypto"},
          "resolve": {"axis": {"x": "independent", "y": "independent"}},
          "layer": [
            {
              "mark": {"type": "bar", "size": 4},
              "encoding": {
                "x": {"field": "t", "type": "quantitative", "scale": {"domain": [2018.99, 2026.88], "nice": false, "zero": false},
                  "axis": {"orient": "bottom", "values": [2019, 2020, 2021, 2022, 2023, 2024, 2025, 2026], "labelExpr": "\"'\" + slice(toString(datum.value), 2)", "labelPadding": 15, "title": "Source:", "titleFontSize": 15, "titleFontWeight": "bold", "titleColor": "#111111", "titleAlign": "left", "titleBaseline": "middle", "titleX": -30.6, "titleY": 68}},
                "y": {"field": "f", "type": "quantitative", "stack": null, "scale": {"domain": [-3, 7], "nice": false, "zero": false},
                  "axis": {"orient": "left", "values": [-3, -2, -1, 0, 1, 2, 3, 4, 5, 6, 7], "labelExpr": "toString(datum.value)", "labelPadding": 13, "title": "Chart 9: Record $6.6bn 5-week outflow from crypto funds", "titleFontSize": 20, "titleFontWeight": "bold", "titleColor": "#1a1a1a", "titleAlign": "left", "titleBaseline": "alphabetic", "titleX": -30.6, "titleY": -69.5}},
                "fill": {"datum": "Crypto fund flows ($bn)", "scale": {"range": ["#1aa0e4"]},
                  "legend": {"orient": "none", "legendX": 84, "legendY": 4.5, "title": null, "symbolType": "M-3.5,-1H3.5V1H-3.5Z", "symbolSize": 144, "symbolStrokeWidth": 0, "labelOffset": 14}}
              }
            },
            {"mark": {"type": "rule", "color": "#1a1a1a", "strokeWidth": 1.5}, "encoding": {"y": {"datum": 0, "type": "quantitative", "axis": null}}},
            {
              "transform": [{"filter": "isValid(datum.m)"}],
              "mark": {"type": "line", "strokeWidth": 3},
              "encoding": {
                "x": {"field": "t", "type": "quantitative", "axis": {"orient": "bottom", "labels": false, "title": "BofA Global Investment Strategy, EPFR", "titleFontSize": 15, "titleFontWeight": "normal", "titleColor": "#222222", "titleAlign": "left", "titleBaseline": "middle", "titleX": 31.4, "titleY": 68}},
                "y": {"field": "m", "type": "quantitative", "axis": {"orient": "left", "labels": false, "title": "Flows to crypto funds, weekly vs 4wk-ma ($bn)", "titleFontSize": 19.5, "titleFontWeight": "normal", "titleColor": "#333333", "titleAlign": "left", "titleBaseline": "alphabetic", "titleX": -30.6, "titleY": -42.5}},
                "stroke": {"datum": "4-week moving average", "scale": {"range": ["#0b1f6b"]},
                  "legend": {"orient": "none", "legendX": 316, "legendY": 4.5, "title": null, "symbolType": "M-3.3,0H3.3", "symbolSize": 144, "symbolStrokeWidth": 3, "labelOffset": 13.5}}
              }
            },
            {
              "transform": [{"filter": "datum.t === 2026.44 && isValid(datum.m)"}],
              "mark": {"type": "point", "shape": "circle", "filled": false, "size": 500, "strokeWidth": 2.2, "color": "#c00d1e"},
              "encoding": {
                "x": {"field": "t", "type": "quantitative", "axis": {"orient": "bottom", "labels": false, "title": "BofA GLOBAL RESEARCH", "titleFontSize": 15.5, "titleFontWeight": "normal", "titleColor": "#6b6b6b", "titleAlign": "right", "titleBaseline": "middle", "titleX": 641.4, "titleY": 91}},
                "y": {"field": "m", "type": "quantitative", "axis": {"orient": "left", "labels": false, "title": "┃", "titleFont": "DejaVu Sans", "titleFontSize": 53, "titleFontWeight": "normal", "titleColor": "#1d4fc9", "titleAlign": "left", "titleBaseline": "alphabetic", "titleX": -69.1, "titleY": -45.8}}
              }
            }
          ]
        },
        {
          "width": 621, "height": 356,
          "data": {"name": "gold"},
          "resolve": {"axis": {"x": "independent", "y": "independent"}},
          "layer": [
            {
              "mark": {"type": "bar", "size": 4},
              "encoding": {
                "x": {"field": "t", "type": "quantitative", "scale": {"domain": [2016.97, 2026.9], "nice": false, "zero": false},
                  "axis": {"orient": "bottom", "values": [2017, 2018, 2019, 2020, 2021, 2022, 2023, 2024, 2025, 2026], "labelExpr": "\"'\" + slice(toString(datum.value), 2)", "labelPadding": 16, "title": "Source:", "titleFontSize": 15, "titleFontWeight": "bold", "titleColor": "#111111", "titleAlign": "left", "titleBaseline": "middle", "titleX": -40, "titleY": 63}},
                "y": {"field": "f", "type": "quantitative", "stack": null, "scale": {"domain": [-10, 10.58], "nice": false, "zero": false},
                  "axis": {"orient": "left", "values": [-10, -8, -6, -4, -2, 0, 2, 4, 6, 8, 10], "labelExpr": "toString(datum.value)", "labelPadding": 14, "title": "Chart 10: Gold funds see 4ᵗʰ week of outflows", "titleFontSize": 20, "titleFontWeight": "bold", "titleColor": "#1a1a1a", "titleAlign": "left", "titleBaseline": "alphabetic", "titleX": -40, "titleY": -69.5}},
                "fill": {"datum": "Gold flows ($bn)", "scale": {"range": ["#1aa0e4"]},
                  "legend": {"orient": "none", "legendX": 32, "legendY": 2.5, "title": null, "symbolType": "M-3.5,-1H3.5V1H-3.5Z", "symbolSize": 144, "symbolStrokeWidth": 0, "labelOffset": 14}}
              }
            },
            {"mark": {"type": "rule", "color": "#1a1a1a", "strokeWidth": 1.5}, "encoding": {"y": {"datum": 0, "type": "quantitative", "axis": null}}},
            {
              "transform": [{"filter": "isValid(datum.m)"}],
              "mark": {"type": "line", "strokeWidth": 3},
              "encoding": {
                "x": {"field": "t", "type": "quantitative", "axis": {"orient": "bottom", "labels": false, "title": "BofA Global Investment Strategy, EPFR", "titleFontSize": 15, "titleFontWeight": "normal", "titleColor": "#222222", "titleAlign": "left", "titleBaseline": "middle", "titleX": 22, "titleY": 63}},
                "y": {"field": "m", "type": "quantitative", "axis": {"orient": "left", "labels": false, "title": "Flows to gold funds, weekly vs 4wk-ma ($bn)", "titleFontSize": 19.5, "titleFontWeight": "normal", "titleColor": "#333333", "titleAlign": "left", "titleBaseline": "alphabetic", "titleX": -40, "titleY": -42.5}},
                "stroke": {"datum": "Gold flows 4-week MA ($bn)", "scale": {"range": ["#0b1f6b"]},
                  "legend": {"orient": "none", "legendX": 209.3, "legendY": 2.5, "title": null, "symbolType": "M-3.3,0H3.3", "symbolSize": 144, "symbolStrokeWidth": 3, "labelOffset": 13.5}}
              }
            },
            {
              "transform": [{"filter": "datum.t === 2026.43 && isValid(datum.m)"}],
              "mark": {"type": "point", "shape": "circle", "filled": false, "size": 500, "strokeWidth": 2.2, "color": "#c00d1e"},
              "encoding": {
                "x": {"field": "t", "type": "quantitative", "axis": {"orient": "bottom", "labels": false, "title": "BofA GLOBAL RESEARCH", "titleFontSize": 15.5, "titleFontWeight": "normal", "titleColor": "#6b6b6b", "titleAlign": "right", "titleBaseline": "middle", "titleX": 632.5, "titleY": 87}},
                "y": {"field": "m", "type": "quantitative", "axis": {"orient": "left", "labels": false, "title": "┃", "titleFont": "DejaVu Sans", "titleFontSize": 53, "titleFontWeight": "normal", "titleColor": "#1d4fc9", "titleAlign": "left", "titleBaseline": "alphabetic", "titleX": -76, "titleY": -45.8}}
              }
            }
          ]
        }
      ]
    },
    {
      "spacing": 92,
      "resolve": {"scale": {"fill": "independent", "stroke": "independent"}, "legend": {"fill": "independent", "stroke": "independent"}},
      "hconcat": [
        {
          "width": 638.4, "height": 363,
          "data": {"name": "em"},
          "resolve": {"axis": {"x": "independent", "y": "independent"}},
          "layer": [
            {
              "mark": {"type": "bar", "size": 4},
              "encoding": {
                "x": {"field": "t", "type": "quantitative", "scale": {"domain": [2016.85, 2026.88], "nice": false, "zero": false},
                  "axis": {"orient": "bottom", "values": [2017, 2018, 2019, 2020, 2021, 2022, 2023, 2024, 2025, 2026], "labelExpr": "\"'\" + slice(toString(datum.value), 2)", "labelPadding": 15.5, "title": "Source:", "titleFontSize": 15, "titleFontWeight": "bold", "titleColor": "#111111", "titleAlign": "left", "titleBaseline": "middle", "titleX": -30.6, "titleY": 57}},
                "y": {"field": "f", "type": "quantitative", "stack": null, "scale": {"domain": [-50, 50], "nice": false, "zero": false},
                  "axis": {"orient": "left", "values": [-50, -40, -30, -20, -10, 0, 10, 20, 30, 40, 50], "labelExpr": "toString(datum.value)", "labelPadding": 3, "title": "Chart 11: First inflow to EM equity funds in 9 weeks", "titleFontSize": 20, "titleFontWeight": "bold", "titleColor": "#1a1a1a", "titleAlign": "left", "titleBaseline": "alphabetic", "titleX": -30.6, "titleY": -75.5}},
                "fill": {"datum": "EM equities flows ($bn)", "scale": {"range": ["#1aa0e4"]},
                  "legend": {"orient": "none", "legendX": 52.4, "legendY": -3, "title": null, "symbolType": "M-3.5,-1H3.5V1H-3.5Z", "symbolSize": 144, "symbolStrokeWidth": 0, "labelOffset": 14}}
              }
            },
            {"mark": {"type": "rule", "color": "#1a1a1a", "strokeWidth": 1.5}, "encoding": {"y": {"datum": 0, "type": "quantitative", "axis": null}}},
            {
              "transform": [{"filter": "isValid(datum.m)"}],
              "mark": {"type": "line", "strokeWidth": 3},
              "encoding": {
                "x": {"field": "t", "type": "quantitative", "axis": {"orient": "bottom", "labels": false, "title": "BofA Global Investment Strategy, EPFR", "titleFontSize": 15, "titleFontWeight": "normal", "titleColor": "#222222", "titleAlign": "left", "titleBaseline": "middle", "titleX": 31.4, "titleY": 57}},
                "y": {"field": "m", "type": "quantitative", "axis": {"orient": "left", "labels": false, "title": "Flows to EM equity funds, weekly vs 4wk-ma ($bn)", "titleFontSize": 19.5, "titleFontWeight": "normal", "titleColor": "#333333", "titleAlign": "left", "titleBaseline": "alphabetic", "titleX": -30.6, "titleY": -46.5}},
                "stroke": {"datum": "EM equities flows 4-week MA ($bn)", "scale": {"range": ["#0b1f6b"]},
                  "legend": {"orient": "none", "legendX": 291.2, "legendY": -3, "title": null, "symbolType": "M-3.3,0H3.3", "symbolSize": 144, "symbolStrokeWidth": 3, "labelOffset": 13.5}}
              }
            },
            {
              "transform": [{"filter": "datum.t === 2026.47 && isValid(datum.m)"}],
              "mark": {"type": "point", "shape": "circle", "filled": false, "size": 500, "strokeWidth": 2.2, "color": "#c00d1e"},
              "encoding": {
                "x": {"field": "t", "type": "quantitative", "axis": {"orient": "bottom", "labels": false, "title": "BofA GLOBAL RESEARCH", "titleFontSize": 15.5, "titleFontWeight": "normal", "titleColor": "#6b6b6b", "titleAlign": "right", "titleBaseline": "middle", "titleX": 641.4, "titleY": 82}},
                "y": {"field": "m", "type": "quantitative", "axis": {"orient": "left", "labels": false, "title": "┃", "titleFont": "DejaVu Sans", "titleFontSize": 53, "titleFontWeight": "normal", "titleColor": "#1d4fc9", "titleAlign": "left", "titleBaseline": "alphabetic", "titleX": -69.1, "titleY": -53.8}}
              }
            }
          ]
        },
        {
          "width": 642, "height": 356,
          "data": {"name": "tech"},
          "resolve": {"axis": {"x": "independent", "y": "independent"}},
          "layer": [
            {
              "mark": {"type": "bar", "size": 4},
              "encoding": {
                "x": {"field": "t", "type": "quantitative", "scale": {"domain": [2016.93, 2027.4], "nice": false, "zero": false},
                  "axis": {"orient": "bottom", "values": [2017, 2018, 2019, 2020, 2021, 2022, 2023, 2024, 2025, 2026, 2027], "labelExpr": "\"'\" + slice(toString(datum.value), 2)", "labelPadding": 15.5, "title": "Source:", "titleFontSize": 15, "titleFontWeight": "bold", "titleColor": "#111111", "titleAlign": "left", "titleBaseline": "middle", "titleX": -32.5, "titleY": 67}},
                "y": {"field": "f", "type": "quantitative", "stack": null, "scale": {"domain": [-6, 12.63], "nice": false, "zero": false},
                  "axis": {"orient": "left", "values": [-6, -4, -2, 0, 2, 4, 6, 8, 10, 12], "labelExpr": "toString(datum.value)", "labelPadding": 10, "title": "Chart 12: Record $12.3bn weekly inflow to tech funds", "titleFontSize": 20, "titleFontWeight": "bold", "titleColor": "#1a1a1a", "titleAlign": "left", "titleBaseline": "alphabetic", "titleX": -32.5, "titleY": -75.5}},
                "fill": {"datum": "Tech flows ($bn)", "scale": {"range": ["#1aa0e4"]},
                  "legend": {"orient": "none", "legendX": 39.6, "legendY": 0, "title": null, "symbolType": "M-3.5,-1H3.5V1H-3.5Z", "symbolSize": 144, "symbolStrokeWidth": 0, "labelOffset": 14}}
              }
            },
            {"mark": {"type": "rule", "color": "#1a1a1a", "strokeWidth": 1.5}, "encoding": {"y": {"datum": 0, "type": "quantitative", "axis": null}}},
            {
              "transform": [{"filter": "isValid(datum.m)"}],
              "mark": {"type": "line", "strokeWidth": 3},
              "encoding": {
                "x": {"field": "t", "type": "quantitative", "axis": {"orient": "bottom", "labels": false, "title": "BofA Global Investment Strategy, EPFR", "titleFontSize": 15, "titleFontWeight": "normal", "titleColor": "#222222", "titleAlign": "left", "titleBaseline": "middle", "titleX": 29.5, "titleY": 67}},
                "y": {"field": "m", "type": "quantitative", "axis": {"orient": "left", "labels": false, "title": "Flows to tech funds, weekly vs 4wk-ma ($bn)", "titleFontSize": 19.5, "titleFontWeight": "normal", "titleColor": "#333333", "titleAlign": "left", "titleBaseline": "alphabetic", "titleX": -32.5, "titleY": -46.5}},
                "stroke": {"datum": "Tech flows 4-week MA ($bn)", "scale": {"range": ["#0b1f6b"]},
                  "legend": {"orient": "none", "legendX": 218.8, "legendY": 0, "title": null, "symbolType": "M-3.3,0H3.3", "symbolSize": 144, "symbolStrokeWidth": 3, "labelOffset": 13.5}}
              }
            },
            {
              "transform": [{"filter": "datum.t === 2026.44 && isValid(datum.m)"}],
              "mark": {"type": "point", "shape": "circle", "filled": false, "size": 500, "strokeWidth": 2.2, "color": "#c00d1e"},
              "encoding": {
                "x": {"field": "t", "type": "quantitative", "axis": {"orient": "bottom", "labels": false, "title": "BofA GLOBAL RESEARCH", "titleFontSize": 15.5, "titleFontWeight": "normal", "titleColor": "#6b6b6b", "titleAlign": "right", "titleBaseline": "middle", "titleX": 640, "titleY": 90}},
                "y": {"field": "m", "type": "quantitative", "axis": {"orient": "left", "labels": false, "title": "┃", "titleFont": "DejaVu Sans", "titleFontSize": 53, "titleFontWeight": "normal", "titleColor": "#1d4fc9", "titleAlign": "left", "titleBaseline": "alphabetic", "titleX": -68.5, "titleY": -53.8}}
              }
            }
          ]
        }
      ]
    }
  ]
}
